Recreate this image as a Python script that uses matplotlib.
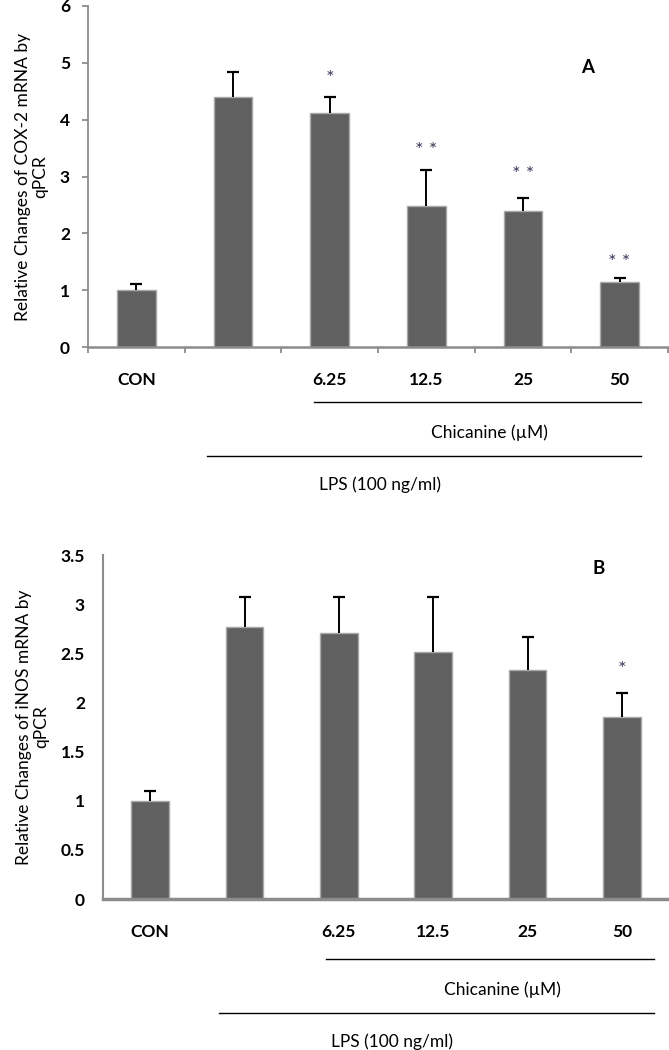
import matplotlib
matplotlib.use('Agg')
import matplotlib.pyplot as plt
import numpy as np

plt.rcParams['font.family'] = ['Lato', 'DejaVu Sans']

# data
categories = ['CON', '', '6.25', '12.5', '25', '50']
cox2_mean = [1.0, 4.40, 4.11, 2.48, 2.40, 1.14]
cox2_err = [0.10, 0.43, 0.29, 0.64, 0.23, 0.08]
cox2_sig = ['', '', '*', '* *', '* *', '* *']
inos_mean = [1.0, 2.77, 2.71, 2.51, 2.33, 1.85]
inos_err = [0.10, 0.30, 0.36, 0.56, 0.34, 0.25]
inos_sig = ['', '', '', '', '', '*']

bar_col = '#606060'
edge_col = '#a8a8a8'
axis_col = '#8c8c8c'

fig = plt.figure(figsize=(6.69, 10.5), dpi=100)


def panel(rect, means, errs, sig, ymax, ystep, ylabel, letter, letter_xy,
          sig_pos, ticks_on, lab_y, chic_line, chic_txt, lps_line, lps_txt):
    ax = fig.add_axes(rect)
    x = np.arange(len(means))
    means = np.array(means)
    errs = np.array(errs)
    ax.bar(x, means, width=0.4, color=bar_col, edgecolor=edge_col, linewidth=1, zorder=2)
    # upper error bars only, cap on top
    ax.vlines(x, means, means + errs, color='black', lw=1.4, zorder=3)
    ax.plot(x, means + errs, ls='none', marker='_', ms=9, mew=1.6, color='black', zorder=3)
    for xi, s, yp in zip(x, sig, sig_pos):
        if s:
            ax.text(xi, yp, s, ha='center', va='center', fontsize=14.5, color='#3a3a5a')
    ax.set_xlim(-0.5, len(means) - 0.5)
    ax.set_ylim(0, ymax)
    ticks = np.arange(0, ymax + ystep / 2, ystep)
    ax.set_yticks(ticks)
    ax.set_yticklabels(['%g' % t for t in ticks], fontsize=12.5, fontweight='bold')
    ax.set_xticks(np.arange(-0.5, len(means), 1.0))
    ax.set_xticklabels([])
    for s in ['top', 'right']:
        ax.spines[s].set_visible(False)
    ax.spines['left'].set_color(axis_col)
    ax.spines['bottom'].set_color(axis_col)
    if ticks_on:
        ax.spines['left'].set_linewidth(1.3)
        ax.spines['bottom'].set_linewidth(1.8)
        ax.tick_params(axis='both', direction='out', length=4, width=1.3, color=axis_col, pad=9)
    else:
        ax.spines['left'].set_linewidth(1.5)
        ax.spines['bottom'].set_linewidth(2.5)
        ax.tick_params(axis='both', length=0, pad=13)
    ax.set_ylabel(ylabel, fontsize=12.5, labelpad=8, linespacing=1.1)
    ax.text(letter_xy[0], letter_xy[1], letter, fontsize=13.5, fontweight='bold',
            ha='center', va='center')
    # category labels and group lines below the axis, placed in figure pixels
    for xi, c in zip(x, categories):
        px = ax.transData.transform((xi, 0))[0]
        fig.text(px / 669, 1 - lab_y / 1050, c, ha='center', va='center',
                 fontsize=12.5, fontweight='bold')
    fig.add_artist(plt.Line2D([chic_line[0] / 669, chic_line[1] / 669],
                              [1 - chic_line[2] / 1050] * 2, color='black', lw=1))
    fig.text(chic_txt[0] / 669, 1 - chic_txt[1] / 1050, 'Chicanine (µM)',
             ha='center', va='center', fontsize=12.5)
    fig.add_artist(plt.Line2D([lps_line[0] / 669, lps_line[1] / 669],
                              [1 - lps_line[2] / 1050] * 2, color='black', lw=1))
    fig.text(lps_txt[0] / 669, 1 - lps_txt[1] / 1050, 'LPS (100 ng/ml)',
             ha='center', va='center', fontsize=12.5)
    return ax


panel([88 / 669, 1 - 347 / 1050, 580 / 669, 341 / 1050], cox2_mean, cox2_err, cox2_sig,
      6, 1, 'Relative Changes of COX-2 mRNA by\nqPCR', 'A', (4.67, 4.91),
      [0, 0, 4.72, 3.45, 3.03, 1.48], True,
      380, (314, 641, 402), (489, 433), (207, 641, 456), (380, 485))

panel([103 / 669, 1 - 899 / 1050, 566 / 669, 344 / 1050], inos_mean, inos_err, inos_sig,
      3.5, 0.5, 'Relative Changes of iNOS mRNA by\nqPCR', 'B', (4.75, 3.36),
      [0, 0, 0, 0, 0, 2.34], False,
      932, (326, 654, 959), (502, 990), (219, 654, 1013), (392, 1042))

fig.savefig('out.png', dpi=100)
